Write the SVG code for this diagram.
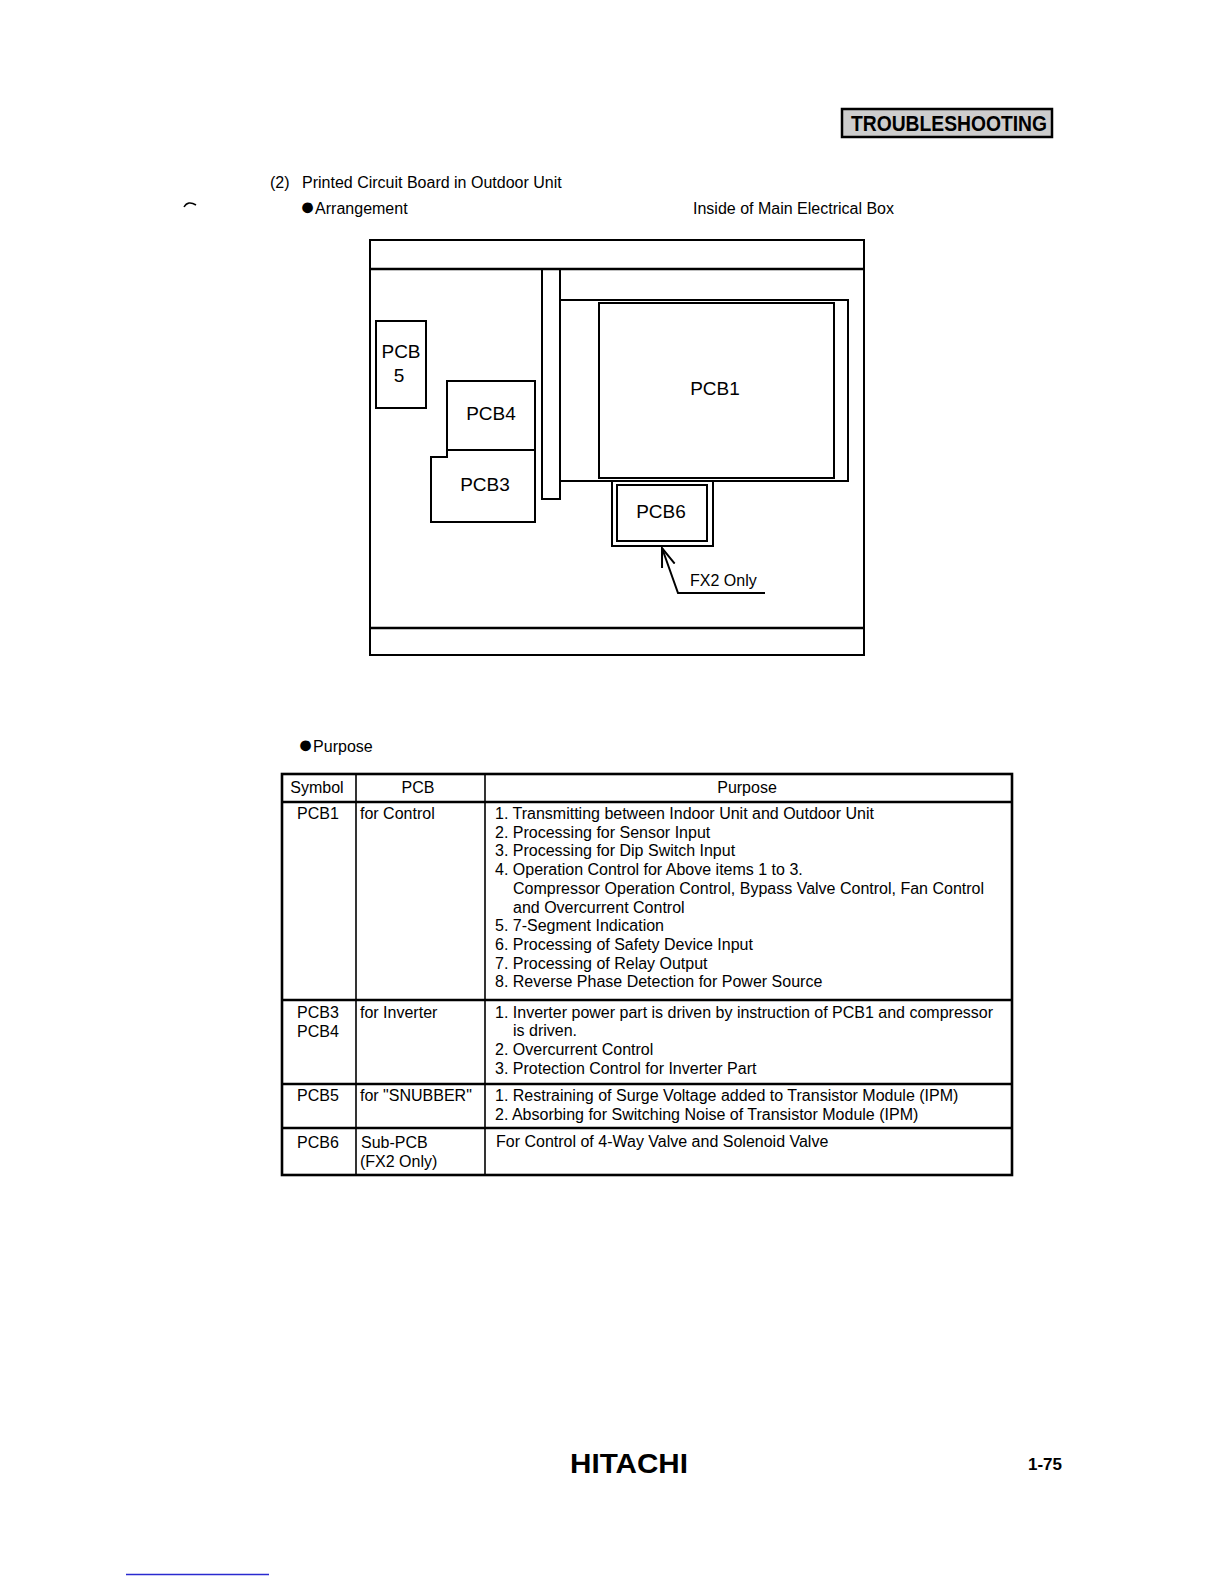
<svg xmlns="http://www.w3.org/2000/svg" width="1224" height="1584" viewBox="0 0 1224 1584">
<defs>
<style>
.t{font-family:"Liberation Sans",Arial,"DejaVu Sans",sans-serif;fill:#000;font-size:16px}
.lbl{font-size:19px;text-anchor:middle}
.mid{text-anchor:middle}
.b{font-weight:bold}
.badge{font-size:22px}
.logo{font-size:27px}
.pg{font-size:17px}
.bul{font-size:25px}
.box{fill:none;stroke:#000;stroke-width:2}
.thick{fill:none;stroke:#000;stroke-width:2.6}
.thin{fill:none;stroke:#000;stroke-width:1.6}
</style>
<marker id="arr" viewBox="0 0 20 16" refX="19" refY="8" markerWidth="20" markerHeight="16" markerUnits="userSpaceOnUse" orient="auto-start-reverse">
<path d="M0,1.3 L19,8 L0,14.7" fill="none" stroke="#000" stroke-width="2"/>
</marker>
</defs>
<rect width="1224" height="1584" fill="#fff"/>

<g id="header-badge">
<rect x="842" y="109" width="210" height="28" fill="#cdcdcd" stroke="#000" stroke-width="2.5"/>
<text class="t b badge" x="851" y="131" textLength="196" lengthAdjust="spacingAndGlyphs">TROUBLESHOOTING</text>
</g>

<g id="titles">
<path d="M184,207 Q188,200 196,205" fill="none" stroke="#000" stroke-width="1.5"/>
<text class="t" x="270" y="188">(2)</text>
<text class="t" x="302" y="188">Printed Circuit Board in Outdoor Unit</text>
<text class="t" x="300" y="214"><tspan class="bul" dy="1">●</tspan><tspan dy="-1">Arrangement</tspan></text>
<text class="t" x="693" y="214">Inside of Main Electrical Box</text>
</g>

<g id="electrical-box">
<rect class="box" x="370" y="240" width="494" height="415"/>
<line class="thick" x1="370" y1="269" x2="864" y2="269"/>
<line class="thick" x1="370" y1="628" x2="864" y2="628"/>
<rect class="box" x="542" y="269" width="18" height="230"/>
<path class="box" d="M560,300 H848 V481 H560"/>
</g>

<g id="pcb1">
<rect class="box" x="599" y="303" width="235" height="175"/>
<text class="t lbl" x="715" y="395">PCB1</text>
</g>

<g id="pcb5">
<rect class="box" x="376" y="321" width="50" height="87"/>
<text class="t lbl" x="401" y="358">PCB</text>
<text class="t lbl" x="399" y="382">5</text>
</g>

<g id="pcb4">
<rect class="box" x="447" y="381" width="88" height="69"/>
<text class="t lbl" x="491" y="420">PCB4</text>
</g>

<g id="pcb3">
<path class="box" d="M447,450 V457 H431 V522 H535 V450"/>
<text class="t lbl" x="485" y="491">PCB3</text>
</g>

<g id="pcb6">
<rect class="box" x="612" y="481" width="101" height="65"/>
<rect class="box" x="617" y="485" width="90" height="56"/>
<text class="t lbl" x="661" y="518">PCB6</text>
</g>

<g id="connectors">
<path d="M662,548 L678,593 H765" fill="none" stroke="#000" stroke-width="2" marker-start="url(#arr)"/>
</g>

<g id="fx2-label">
<text class="t" x="690" y="586">FX2 Only</text>
</g>

<g id="purpose-title">
<text class="t" x="298" y="752"><tspan class="bul" dy="1">●</tspan><tspan dy="-1">Purpose</tspan></text>
</g>

<g id="table">
<rect class="thick" x="282" y="774" width="730" height="401"/>
<line class="thick" x1="282" y1="802" x2="1012" y2="802"/>
<line class="thick" x1="282" y1="1000" x2="1012" y2="1000"/>
<line class="thick" x1="282" y1="1084" x2="1012" y2="1084"/>
<line class="thick" x1="282" y1="1128" x2="1012" y2="1128"/>
<line class="thin" x1="356" y1="774" x2="356" y2="1175"/>
<line class="thin" x1="485" y1="774" x2="485" y2="1175"/>

<text class="t mid" x="317" y="793">Symbol</text>
<text class="t mid" x="418" y="793">PCB</text>
<text class="t mid" x="747" y="793">Purpose</text>

<text class="t" x="297" y="819">PCB1</text>
<text class="t" x="360" y="819">for Control</text>
<text class="t" x="495" y="819">1. Transmitting between Indoor Unit and Outdoor Unit</text>
<text class="t" x="495" y="837.7">2. Processing for Sensor Input</text>
<text class="t" x="495" y="856.4">3. Processing for Dip Switch Input</text>
<text class="t" x="495" y="875.1">4. Operation Control for Above items 1 to 3.</text>
<text class="t" x="513" y="893.8">Compressor Operation Control, Bypass Valve Control, Fan Control</text>
<text class="t" x="513" y="912.5">and Overcurrent Control</text>
<text class="t" x="495" y="931.2">5. 7-Segment Indication</text>
<text class="t" x="495" y="949.9">6. Processing of Safety Device Input</text>
<text class="t" x="495" y="968.6">7. Processing of Relay Output</text>
<text class="t" x="495" y="987.3">8. Reverse Phase Detection for Power Source</text>

<text class="t" x="297" y="1017.5">PCB3</text>
<text class="t" x="297" y="1036.5">PCB4</text>
<text class="t" x="360" y="1017.5">for Inverter</text>
<text class="t" x="495" y="1017.5">1. Inverter power part is driven by instruction of PCB1 and compressor</text>
<text class="t" x="513" y="1036.2">is driven.</text>
<text class="t" x="495" y="1054.9">2. Overcurrent Control</text>
<text class="t" x="495" y="1073.6">3. Protection Control for Inverter Part</text>

<text class="t" x="297" y="1101">PCB5</text>
<text class="t" x="360" y="1101">for "SNUBBER"</text>
<text class="t" x="495" y="1101">1. Restraining of Surge Voltage added to Transistor Module (IPM)</text>
<text class="t" x="495" y="1119.7">2. Absorbing for Switching Noise of Transistor Module (IPM)</text>

<text class="t" x="297" y="1147.5">PCB6</text>
<text class="t" x="361" y="1147.5">Sub-PCB</text>
<text class="t" x="360" y="1166.5">(FX2 Only)</text>
<text class="t" x="496" y="1146.5">For Control of 4-Way Valve and Solenoid Valve</text>
</g>

<g id="footer">
<text class="t b logo" x="570" y="1473" textLength="118" lengthAdjust="spacingAndGlyphs">HITACHI</text>
<text class="t b pg" x="1028" y="1470" textLength="34" lengthAdjust="spacingAndGlyphs">1-75</text>
<line x1="126" y1="1574.5" x2="269" y2="1574.5" stroke="#2a2ad0" stroke-width="1.5"/>
</g>
</svg>
